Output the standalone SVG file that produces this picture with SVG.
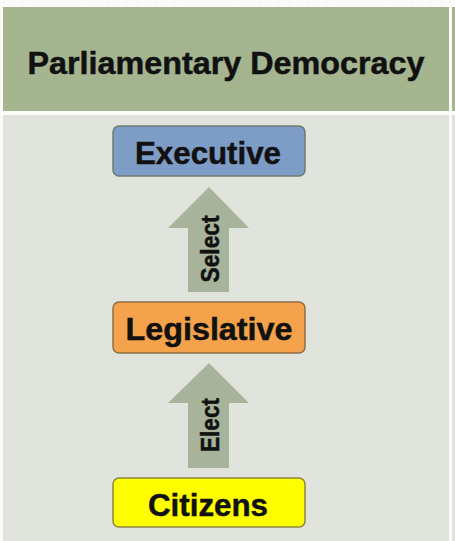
<svg xmlns="http://www.w3.org/2000/svg" width="455" height="541" viewBox="0 0 455 541">
  <defs>
    <style>
      .lbl { font-family: "Liberation Sans", "DejaVu Sans", Arial, sans-serif; font-weight: bold; fill: #111; stroke: #111; stroke-width: 0.5; }
      .box { stroke-width: 1.5; }
      .arrow { fill: #a7b49b; }
    </style>
  </defs>
  <rect x="0" y="0" width="455" height="541" fill="#fbfcf9"/>
  <line x1="3" y1="2" x2="452" y2="2" stroke="#e4e6e0" stroke-width="1" stroke-dasharray="1.5,8"/>
  <g id="header">
    <rect x="3" y="7" width="446" height="104" fill="#a4b590"/>
    <rect x="452" y="7" width="3" height="104" fill="#a4b590"/>
    <text class="lbl" x="226" y="74" font-size="32" text-anchor="middle" textLength="397" lengthAdjust="spacingAndGlyphs">Parliamentary Democracy</text>
  </g>
  <g id="body">
    <rect x="3" y="115" width="446" height="426" fill="#e1e4dc"/>
    <rect x="452" y="115" width="3" height="426" fill="#e1e4dc"/>
  </g>
  <g id="connectors">
    <g id="select-arrow">
      <polygon class="arrow" points="209,187 249,228 229,228 229,292 188,292 188,228 168,228"/>
      <text class="lbl" font-size="25" text-anchor="middle" transform="translate(219,249) rotate(-90)" textLength="67" lengthAdjust="spacingAndGlyphs">Select</text>
    </g>
    <g id="elect-arrow">
      <polygon class="arrow" points="209,363 249,403 229,403 229,468 188,468 188,403 168,403"/>
      <text class="lbl" font-size="25" text-anchor="middle" transform="translate(219,425) rotate(-90)" textLength="54" lengthAdjust="spacingAndGlyphs">Elect</text>
    </g>
  </g>
  <g id="executive">
    <rect class="box" x="113" y="126" width="192" height="50" rx="6" fill="#7e9dc6" stroke="#6d7b72"/>
    <text class="lbl" x="208" y="163.5" font-size="31" text-anchor="middle" textLength="146" lengthAdjust="spacingAndGlyphs">Executive</text>
  </g>
  <g id="legislative">
    <rect class="box" x="113" y="302" width="192" height="51" rx="6" fill="#f4a24c" stroke="#8f6f45"/>
    <text class="lbl" x="209" y="340" font-size="31" text-anchor="middle" textLength="167" lengthAdjust="spacingAndGlyphs">Legislative</text>
  </g>
  <g id="citizens">
    <rect class="box" x="113" y="478" width="192" height="49" rx="6" fill="#fefe00" stroke="#8a8840"/>
    <text class="lbl" x="208" y="516" font-size="31" text-anchor="middle" textLength="120" lengthAdjust="spacingAndGlyphs">Citizens</text>
  </g>
</svg>
